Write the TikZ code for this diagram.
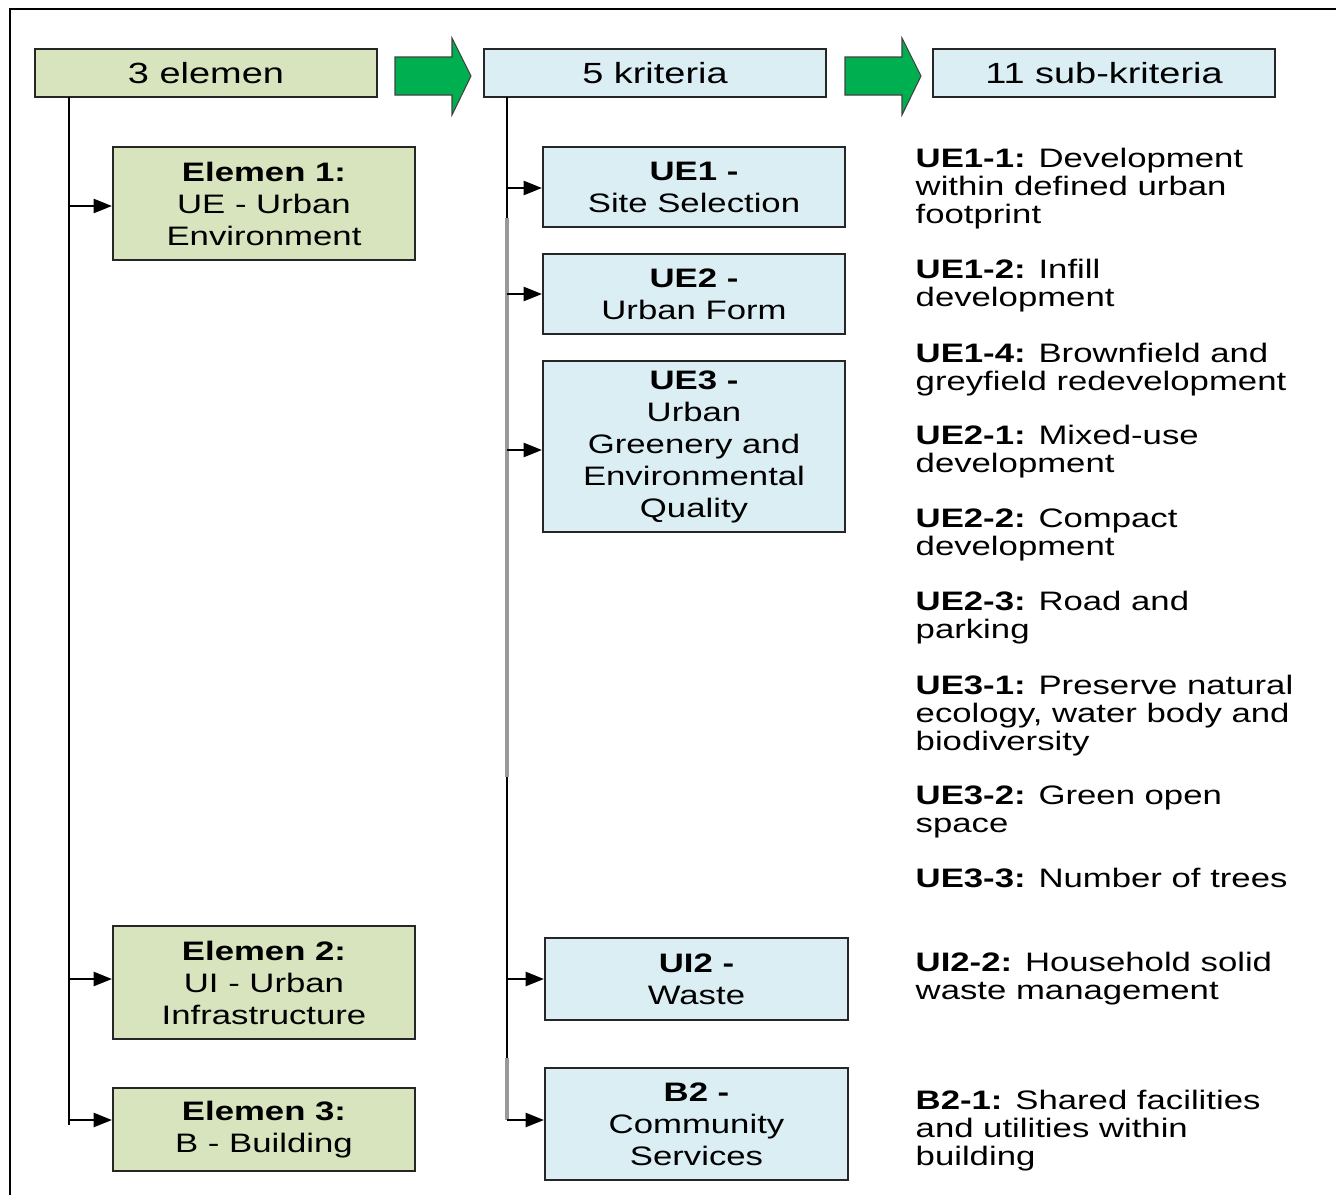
\documentclass[tikz,border=0pt]{standalone}
\usepackage{fontspec}
\setmainfont{Liberation Sans}[FakeStretch=1.3]
\usetikzlibrary{positioning,arrows.meta}
\definecolor{elgreen}{HTML}{D7E4BD}
\definecolor{krblue}{HTML}{DBEEF4}
\definecolor{arrgreen}{HTML}{00B050}
\definecolor{boxline}{HTML}{262626}
\begin{document}
\begin{tikzpicture}[node distance=4.49cm,
  box/.style={rectangle, draw=boxline, line width=0.6pt, align=center, inner sep=0pt,
    font=\fontsize{7.6}{9.1}\selectfont},
  hdr/.style={box, minimum width=3.42cm, minimum height=0.48cm, font=\fontsize{8.3}{9.1}\selectfont},
  elbox/.style={box, fill=elgreen, minimum width=3.02cm},
  krbox/.style={box, fill=krblue, minimum width=3.02cm},
  sub/.style={anchor=north west, align=left, inner sep=0pt, font=\fontsize{7.6}{8}\selectfont},
  link/.style={line width=0.6pt, -{Triangle[length=5.2pt,width=4pt]}},
  trunk/.style={line width=0.6pt},
  greyline/.style={line width=0.9pt, black!40},
  bigarrow/.style={fill=arrgreen, draw=black!75, line width=0.3pt}]
\useasboundingbox (0,0) rectangle (13.36,-11.95);
\draw[line width=0.6pt] (0.1,-11.95) -- (0.1,-0.09) -- (13.36,-0.09);

\node[hdr, fill=elgreen] (el) at (2.06,-0.73) {3 elemen};
\node[hdr, fill=krblue] (kr) [right of=el] {5 kriteria};
\node[hdr, fill=krblue] (sk) [right of=kr] {11 sub-kriteria};
\foreach \x in {3.95,8.45}
  \filldraw[bigarrow] (\x,-0.57) -- ++(0.57,0) -- ++(0,0.19) -- ++(0.19,-0.38)
    -- ++(-0.19,-0.39) -- ++(0,0.2) -- ++(-0.57,0) -- cycle;

\node[elbox, minimum height=1.13cm] (e1) at (2.64,-2.035) {\textbf{Elemen 1:}\\UE - Urban\\Environment};
\node[elbox, minimum height=1.13cm] (e2) at (2.64,-9.825) {\textbf{Elemen 2:}\\UI - Urban\\Infrastructure};
\node[elbox, minimum height=0.83cm] (e3) at (2.64,-11.295) {\textbf{Elemen 3:}\\B - Building};

\node[krbox, minimum height=0.80cm] (ue1) at (6.94,-1.87) {\textbf{UE1 -}\\Site Selection};
\node[krbox, minimum height=0.80cm] (ue2) at (6.94,-2.94) {\textbf{UE2 -}\\Urban Form};
\node[krbox, minimum height=1.71cm] (ue3) at (6.94,-4.465) {\textbf{UE3 -}\\Urban\\Greenery and\\Environmental\\Quality};
\node[krbox, minimum height=0.82cm, minimum width=3.03cm] (ui2) at (6.965,-9.79) {\textbf{UI2 -}\\Waste};
\node[krbox, minimum height=1.12cm, minimum width=3.03cm] (b2) at (6.965,-11.24) {\textbf{B2 -}\\Community\\Services};

\coordinate (ltop) at (0.69,-0.97);
\coordinate (lbot) at (0.69,-11.25);
\coordinate (mtop) at (5.07,-0.97);
\coordinate (mbot) at (5.07,-11.2);
\coordinate (lvl3) at (0,-11.2);
\draw[trunk] (ltop) -- (lbot);
\draw[trunk] (mtop) -- (mbot);
\draw[greyline] (5.07,-2.18) -- (5.07,-7.77);
\draw[greyline] (5.07,-10.58) -- (mbot);

\draw[link] (ltop |- 0,-2.06) -- (e1.west |- 0,-2.06);
\draw[link] (ltop |- 0,-9.79) -- (e2.west |- 0,-9.79);
\draw[link] (ltop |- lvl3) -- (e3.west |- lvl3);
\draw[link] (mtop |- 0,-1.88) -- (ue1.west |- 0,-1.88);
\draw[link] (mtop |- ue2) -- (ue2);
\draw[link] (mtop |- 0,-4.5) -- (ue3.west |- 0,-4.5);
\draw[link] (mtop |- ui2) -- (ui2);
\draw[link] (mtop |- lvl3) -- (b2.west |- lvl3);

\node[sub] (s11) at (9.15,-1.47) {\textbf{UE1-1:} Development\\within defined urban\\footprint};
\node[sub] (s12) at (9.15,-2.58) {\textbf{UE1-2:} Infill\\development};
\node[sub] (s14) at (9.15,-3.42) {\textbf{UE1-4:} Brownfield and\\greyfield redevelopment};
\node[sub] (s21) at (9.15,-4.24) {\textbf{UE2-1:} Mixed-use\\development};
\node[sub] (s22) at (9.15,-5.08) {\textbf{UE2-2:} Compact\\development};
\node[sub] (s23) at (9.15,-5.90) {\textbf{UE2-3:} Road and\\parking};
\node[sub] (s31) at (9.15,-6.74) {\textbf{UE3-1:} Preserve natural\\ecology, water body and\\biodiversity};
\node[sub] (s32) at (9.15,-7.85) {\textbf{UE3-2:} Green open\\space};
\node[sub] (s33) at (9.15,-8.67) {\textbf{UE3-3:} Number of trees};
\node[sub] (u22) at (9.15,-9.51) {\textbf{UI2-2:} Household solid\\waste management};
\node[sub] (b21) at (9.15,-10.89) {\textbf{B2-1:} Shared facilities\\and utilities within\\building};
\end{tikzpicture}
\end{document}
